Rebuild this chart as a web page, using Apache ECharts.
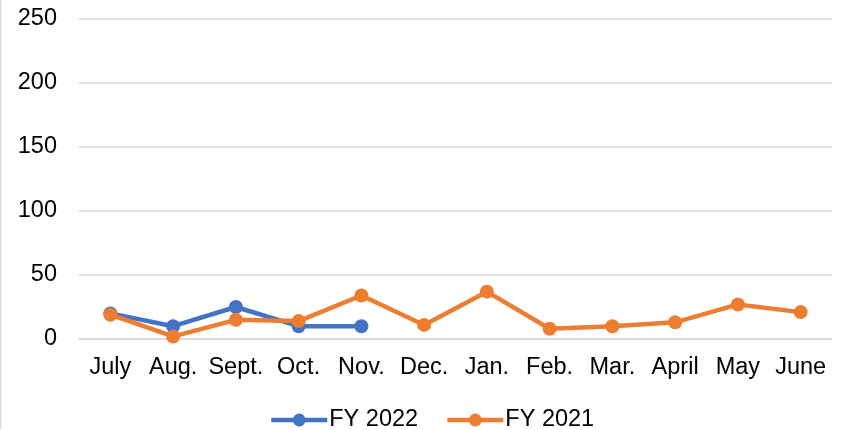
<!DOCTYPE html>
<html><head><meta charset="utf-8">
<script src="https://cdn.jsdelivr.net/npm/echarts@6/dist/echarts.min.js"></script>
<style>html,body{margin:0;padding:0;background:#fff}#c{width:848px;height:430px}</style>
</head><body><div id="c"></div>
<script>
const categories = ["July","Aug.","Sept.","Oct.","Nov.","Dec.","Jan.","Feb.","Mar.","April","May","June"];
const fy2022 = [20,10,25,10,10];
const fy2021 = [19,2,15,14,34,11,37,8,10,13,27,21];
const yTicks = {min:0,max:250,interval:50};

const chart = echarts.init(document.getElementById('c'),null,{renderer:'canvas'});
const font = 'Liberation Sans, Arial, sans-serif';
chart.setOption({
  animation:false,
  textStyle:{fontFamily:font},
  graphic:[{type:'line',shape:{x1:0.5,y1:0,x2:0.5,y2:429},style:{stroke:'#d9d9d9',lineWidth:1.5}}],
  grid:{left:79,right:16,top:19,bottom:91,containLabel:false},
  xAxis:{type:'category',data:categories,boundaryGap:true,
    axisLine:{show:true,lineStyle:{color:'#d9d9d9',width:1.5}},axisTick:{show:false},
    axisLabel:{color:'#000',fontSize:23.5,fontFamily:font,margin:17,interval:0}},
  yAxis:{type:'value',min:yTicks.min,max:yTicks.max,interval:yTicks.interval,
    axisLine:{show:false},axisTick:{show:false},
    splitLine:{lineStyle:{color:'#d9d9d9',width:1.5}},
    axisLabel:{color:'#000',fontSize:23.5,fontFamily:font,margin:22}},
  legend:{top:403,left:264,itemWidth:56,itemHeight:16,itemGap:27,
    lineStyle:{width:4.5},
    textStyle:{color:'#000',fontSize:23.5,fontFamily:font,padding:[0,0,0,-3]},
    data:['FY 2022','FY 2021']},
  series:[
    {name:'FY 2022',type:'line',data:fy2022,symbol:'circle',symbolSize:14,
     lineStyle:{color:'#4472C4',width:4.5},itemStyle:{color:'#4472C4'},z:2},
    {name:'FY 2021',type:'line',data:fy2021,symbol:'circle',symbolSize:14,
     lineStyle:{color:'#ED7D31',width:4.5},itemStyle:{color:'#ED7D31'},z:3}
  ]
});
</script></body></html>
